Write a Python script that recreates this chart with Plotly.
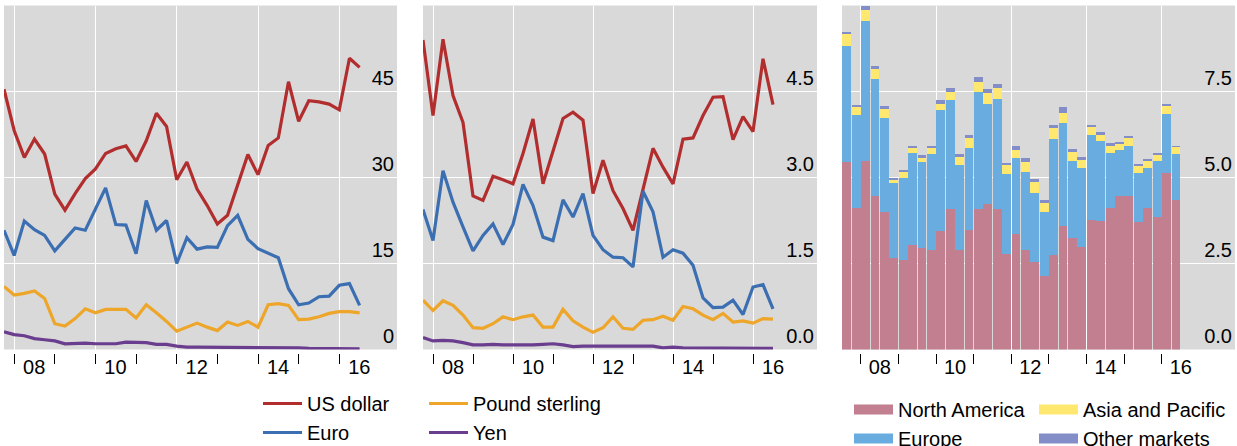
import plotly.graph_objects as go

# Quarterly periods, 2007 Q3 to 2016 Q2
quarters = []
for year in range(2007, 2017):
    for q in range(1, 5):
        if (2007, 3) <= (year, q) <= (2016, 2):
            quarters.append((year, q))

# Lines are plotted at quarter ends, bars span the whole quarter
x_end = [y + q / 4 for y, q in quarters]
x_mid = [y + (q - 0.5) / 4 for y, q in quarters]

# Left panel: amounts by currency
usd_a = [45.4, 38.2, 33.5, 36.7, 34.1, 27.1, 24.3, 27.2, 29.8, 31.5, 34.2, 35.0,
         35.5, 32.8, 36.4, 41.2, 38.9, 29.6, 32.7, 28.0, 25.1, 21.9, 23.4, 28.6,
         34.0, 30.5, 35.6, 36.9, 46.7, 39.8, 43.4, 43.2, 42.8, 41.8, 50.8, 49.2]
eur_a = [20.8, 16.4, 22.4, 20.9, 19.9, 17.2, 19.2, 21.2, 20.8, 24.5, 28.2, 21.8,
         21.7, 16.7, 26.0, 20.8, 22.5, 15.0, 19.5, 17.5, 17.9, 17.8, 21.6, 23.4,
         19.2, 17.6, 16.8, 16.0, 10.6, 7.8, 8.1, 9.2, 9.3, 11.2, 11.5, 7.7]
gbp_a = [11.0, 9.5, 9.8, 10.2, 8.9, 4.5, 4.1, 5.4, 7.1, 6.4, 7.0, 7.0,
         7.0, 5.5, 7.8, 6.4, 4.9, 3.2, 3.9, 4.6, 3.9, 3.3, 4.8, 4.2,
         4.9, 3.9, 7.8, 8.0, 7.7, 5.2, 5.3, 5.7, 6.3, 6.6, 6.6, 6.4]
jpy_a = [3.1, 2.6, 2.4, 1.9, 1.7, 1.5, 1.0, 1.1, 1.1, 1.0, 1.0, 1.0,
         1.3, 1.3, 1.2, 0.9, 0.9, 0.6, 0.4, 0.4, 0.4, 0.4, 0.4, 0.4,
         0.4, 0.3, 0.3, 0.3, 0.3, 0.3, 0.2, 0.2, 0.2, 0.2, 0.2, 0.1]

# Middle panel: counts by currency
usd_b = [5.40, 4.08, 5.41, 4.43, 3.96, 2.68, 2.60, 3.02, 2.96, 2.89, 3.42, 4.02,
         2.89, 3.47, 4.03, 4.14, 4.00, 2.72, 3.30, 2.77, 2.46, 2.08, 2.77, 3.51,
         3.18, 2.89, 3.67, 3.69, 4.08, 4.40, 4.41, 3.66, 4.06, 3.80, 5.07, 4.27]
eur_b = [2.44, 1.90, 3.12, 2.57, 2.14, 1.72, 1.99, 2.19, 1.83, 2.18, 2.88, 2.51,
         1.96, 1.90, 2.61, 2.31, 2.72, 1.99, 1.74, 1.61, 1.60, 1.44, 2.76, 2.40,
         1.61, 1.74, 1.68, 1.47, 0.90, 0.73, 0.74, 0.86, 0.61, 1.09, 1.13, 0.71]
gbp_b = [0.86, 0.68, 0.85, 0.77, 0.60, 0.38, 0.37, 0.45, 0.57, 0.52, 0.57, 0.60,
         0.39, 0.39, 0.70, 0.50, 0.39, 0.30, 0.38, 0.57, 0.37, 0.35, 0.51, 0.52,
         0.58, 0.51, 0.75, 0.71, 0.60, 0.52, 0.63, 0.48, 0.50, 0.46, 0.54, 0.53]
jpy_b = [0.21, 0.15, 0.16, 0.15, 0.12, 0.08, 0.08, 0.09, 0.08, 0.08, 0.07, 0.08,
         0.09, 0.10, 0.08, 0.05, 0.06, 0.06, 0.06, 0.06, 0.06, 0.06, 0.06, 0.06,
         0.03, 0.04, 0.03, 0.03, 0.03, 0.03, 0.03, 0.03, 0.03, 0.02, 0.02, 0.02]

# Right panel: stacked by region
north_america = [5.44, 4.12, 5.47, 4.45, 4.00, 2.67, 2.59, 3.03, 2.96, 2.90, 3.44, 4.07,
                 2.90, 3.48, 4.07, 4.22, 4.07, 2.77, 3.35, 2.88, 2.54, 2.13, 2.74, 3.58,
                 3.23, 2.97, 3.76, 3.73, 4.12, 4.45, 4.45, 3.70, 4.10, 3.84, 5.12, 4.34]
europe = [3.37, 2.69, 4.07, 3.40, 2.74, 2.16, 2.41, 2.67, 2.48, 2.77, 3.51, 3.17,
          2.45, 2.37, 3.43, 2.92, 3.20, 2.32, 2.21, 2.27, 2.02, 1.86, 3.37, 2.99,
          2.26, 2.30, 2.49, 2.32, 1.58, 1.34, 1.46, 1.42, 1.17, 1.63, 1.74, 1.33]
asia_pacific = [0.39, 0.27, 0.34, 0.29, 0.28, 0.14, 0.18, 0.19, 0.17, 0.22, 0.19, 0.26,
                0.26, 0.30, 0.27, 0.32, 0.34, 0.26, 0.23, 0.29, 0.30, 0.27, 0.33, 0.31,
                0.25, 0.23, 0.22, 0.20, 0.23, 0.19, 0.26, 0.22, 0.20, 0.21, 0.23, 0.24]
other_markets = [0.04, 0.04, 0.10, 0.09, 0.05, 0.03, 0.04, 0.04, 0.05, 0.04, 0.10, 0.09,
                 0.08, 0.09, 0.14, 0.12, 0.12, 0.08, 0.12, 0.12, 0.09, 0.08, 0.10, 0.16,
                 0.08, 0.09, 0.07, 0.06, 0.06, 0.06, 0.05, 0.06, 0.06, 0.03, 0.06, 0.02]

year_ticks = [2008, 2010, 2012, 2014, 2016]
year_labels = ["08", "10", "12", "14", "16"]
odd_years = [2009, 2011, 2013, 2015]

W, H = 1237, 446
FONT = "Arial, Liberation Sans, Helvetica, sans-serif"
BG = "#d9d9d9"

C_USD, C_EUR, C_GBP, C_JPY = "#b22e2e", "#3b6fb2", "#eea62a", "#6b3d8e"
C_NA, C_EU, C_AP, C_OT = "#c27f8f", "#69ade0", "#ffe870", "#838ec9"

fig = go.Figure()

currency_sets = [
    ("x", "y", usd_a, eur_a, gbp_a, jpy_a, True),
    ("x2", "y2", usd_b, eur_b, gbp_b, jpy_b, False),
]
for xa, ya, usd, eur, gbp, jpy, show in currency_sets:
    for name, vals, col, lg in [
        ("US dollar", usd, C_USD, "legend"),
        ("Euro", eur, C_EUR, "legend"),
        ("Pound sterling", gbp, C_GBP, "legend2"),
        ("Yen", jpy, C_JPY, "legend2"),
    ]:
        fig.add_trace(go.Scatter(
            x=x_end, y=vals, mode="lines", name=name,
            line=dict(color=col, width=3.2),
            xaxis=xa, yaxis=ya, legend=lg, legendgroup=name, showlegend=show,
        ))

regions = [
    ("North America", north_america, C_NA, "legend3"),
    ("Europe", europe, C_EU, "legend3"),
    ("Asia and Pacific", asia_pacific, C_AP, "legend4"),
    ("Other markets", other_markets, C_OT, "legend4"),
]
for name, vals, col, lg in regions:
    fig.add_trace(go.Bar(
        x=x_mid, y=vals, name=name, marker=dict(color=col, line=dict(width=0)),
        xaxis="x3", yaxis="y3", legendgroup=name, showlegend=False,
    ))
# wide swatches for the region legend
for name, vals, col, lg in regions:
    fig.add_trace(go.Scatter(
        x=[None], y=[None], mode="lines", name=name,
        line=dict(color=col, width=14),
        xaxis="x3", yaxis="y3", legend=lg, legendgroup=name,
    ))

tick_font = dict(family=FONT, size=20, color="black")


def x_axis(domain, rng, shift):
    return dict(
        domain=domain, range=rng, showgrid=True, gridcolor="white", gridwidth=1.3,
        tickmode="array", tickvals=year_ticks, ticktext=year_labels,
        ticks="outside", ticklen=10, tickwidth=1.3, tickcolor="black",
        ticklabelshift=shift, ticklabelstandoff=-14, tickfont=tick_font,
        minor=dict(tickmode="array", tickvals=odd_years, ticks="outside",
                   ticklen=10, tickwidth=1.3, tickcolor="black", showgrid=False),
        zeroline=False, showline=False, anchor="free", position=1 - 353 / H,
        fixedrange=True,
    )


def y_axis(anchor, rng, vals, fmt):
    return dict(
        anchor=anchor, side="right", range=rng, tickmode="array", tickvals=vals,
        tickformat=fmt, ticklabelposition="inside top", ticks="",
        showgrid=True, gridcolor="white", gridwidth=1.3, zeroline=False,
        showline=False, tickfont=tick_font, domain=[1 - 349.5 / H, 1 - 5.5 / H],
        fixedrange=True,
    )


legend_common = dict(
    font=dict(family=FONT, size=20, color="black"), bgcolor="rgba(0,0,0,0)",
    xanchor="left", yanchor="top", orientation="v", tracegroupgap=0,
    itemwidth=39,
)

fig.update_layout(
    width=W, height=H, autosize=False,
    margin=dict(l=0, r=0, t=0, b=0, pad=0, autoexpand=False),
    paper_bgcolor="white", plot_bgcolor=BG,
    font=dict(family=FONT, size=20, color="black"),
    barmode="stack", bargap=0.06,
    xaxis=x_axis([4 / W, 397 / W], [2007.75, 2017.42], 20),
    xaxis2=x_axis([423 / W, 817 / W], [2007.75, 2017.6], 20),
    xaxis3=x_axis([842 / W, 1235 / W], [2007.5, 2017.945], 19),
    yaxis=y_axis("x", [0, 60], [0, 15, 30, 45], "d"),
    yaxis2=y_axis("x2", [0, 6], [0, 1.5, 3, 4.5], ".1f"),
    yaxis3=y_axis("x3", [0, 10], [0, 2.5, 5, 7.5], ".1f"),
    legend=dict(legend_common, x=258 / W, y=1 - 384 / H),
    legend2=dict(legend_common, x=424 / W, y=1 - 384 / H),
    legend3=dict(legend_common, x=849 / W, y=1 - 390 / H),
    legend4=dict(legend_common, x=1034 / W, y=1 - 390 / H),
    showlegend=True,
)

fig.write_html("out.html")
